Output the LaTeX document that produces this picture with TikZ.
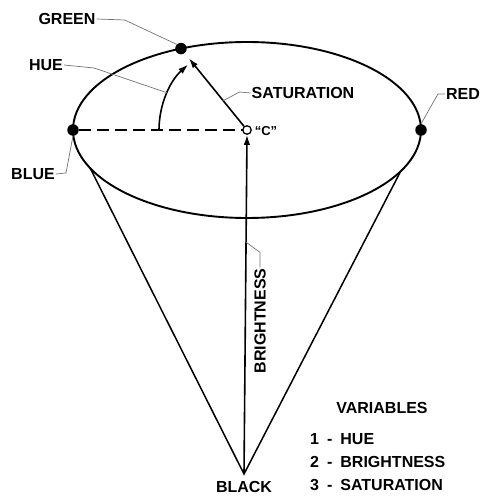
\documentclass[tikz,border=0pt]{standalone}
\usepackage{fontspec}
\setmainfont{Liberation Sans}
\usetikzlibrary{arrows.meta, calc, positioning}
\tikzset{
  >={Latex[length=10pt,width=6.5pt]},
  % cone and ellipse
  rim/.style={line width=1.9pt},
  side/.style={line width=1.5pt},
  dot/.style={circle,fill=black,inner sep=0pt,minimum size=11.5pt},
  hole/.style={circle,draw=black,line width=1.3pt,fill=white,inner sep=0pt,minimum size=8.5pt},
  arr/.style={->,line width=1.6pt},
  % labels and their leader lines
  leader/.style={black!55,line width=0.7pt},
  lbl/.style={font=\fontsize{16}{18}\selectfont\bfseries,inner sep=1pt}
}

\begin{document}
\begin{tikzpicture}[x=1pt,y=1pt]
  \useasboundingbox (0,0) rectangle (482,496);
  % cone
  \coordinate (c0) at (247,366);
  \coordinate (apex) at (244,22);
  \draw[rim] (c0) ellipse [x radius=174pt, y radius=88pt];
  \coordinate (tl) at ($(c0)+(205.6:174pt and 88pt)$);
  \coordinate (tr) at ($(c0)+(332:174pt and 88pt)$);
  \draw[side] (tl) -- (apex) -- (tr);
  % primaries on the rim
  \node[dot] (blue) at ($(c0)+(180:174pt and 88pt)$) {};
  \node[dot] (green) at ($(c0)+(112.3:174pt and 88pt)$) {};
  \node[dot] (red) at ($(c0)+(0:174pt and 88pt)$) {};
  \draw[side,dash pattern=on 12pt off 6pt] (blue) -- (c0);
  \node[hole] (cpt) at (c0) {};
  % the three variables
  \draw[arr] (apex) -- (cpt.south);
  \draw[arr] (cpt) -- ($(cpt)!0.88!(green)$);
  \draw[arr] ($(cpt)+(180:88pt)$) arc [start angle=180, end angle=132, radius=88pt];
  % labels
  \node[lbl] (lgreen) at (67,477) {GREEN};
  \draw[leader] (lgreen.east) -- ++(28,-1) -- (green.north west);
  \node[lbl] (lhue) at (46,431) {HUE};
  \coordinate (huept) at ($(cpt)+(155:88pt)$);
  \draw[leader] (lhue.east) -- ++(30,-3) -- (huept);
  \node[lbl] (lblue) at (33,322) {BLUE};
  \draw[leader] (lblue.east) -- ++(10,1) -- (blue.south);
  \node[lbl] (lsat) at (303,403) {SATURATION};
  \coordinate (satpt) at ($(cpt)!0.36!(green)$);
  \draw[leader] (lsat.west) -- ++(-11,1) -- (satpt);
  \node[lbl] (lred) at (463,402) {RED};
  \draw[leader] (lred.west) -- ++(-7,0) -- (red.north);
  \node[lbl,font=\fontsize{13}{15}\selectfont\bfseries] (lc) at (266,365) {``C''};
  \node[lbl,rotate=90] (lbright) at (260,175) {BRIGHTNESS};
  \coordinate (brpt) at ($(apex)!0.674!(cpt)$);
  \draw[leader] (lbright.east) -- ++(0,15) -- (brpt);
  \node[lbl] (lblack) at (244,9) {BLACK};
  % legend
  \node[lbl] (lvar) at (382,88) {VARIABLES};
  \node[lbl,anchor=west] (v1) at (309,57) {1\enspace-\enspace HUE};
  \node[lbl,below=23pt of v1.west,anchor=west] (v2) {2\enspace-\enspace BRIGHTNESS};
  \node[lbl,below=23pt of v2.west,anchor=west] (v3) {3\enspace-\enspace SATURATION};
\end{tikzpicture}
\end{document}
